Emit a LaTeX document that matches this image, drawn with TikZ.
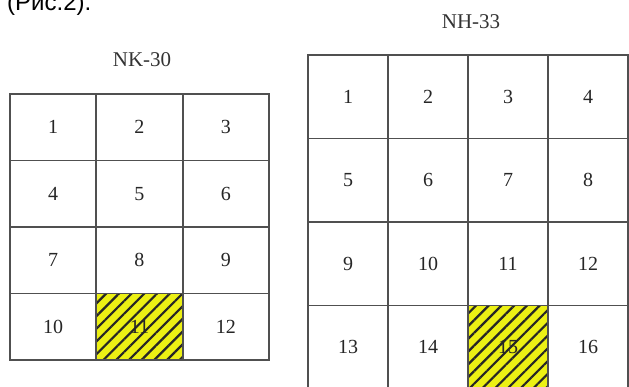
\documentclass[tikz,border=0pt]{standalone}
\usepackage{fontspec}
\setmainfont{Liberation Serif}
\newfontfamily\capfont{Liberation Sans}
\usepackage{tikz}
\usetikzlibrary{patterns.meta}

\definecolor{gridgray}{RGB}{80,80,80}
\definecolor{hatchyellow}{RGB}{236,240,20}

\begin{document}
\begin{tikzpicture}[
        x=1pt, y=-1pt,
        cell/.style={draw=gridgray, line width=1.7pt, inner sep=0pt,
            text=black!85, font=\fontsize{20}{24}\selectfont},
        hatched/.style={preaction={fill=hatchyellow},
            pattern={Lines[angle=45, distance=9pt, line width=2.2pt]},
            pattern color=black!85},
        ttl/.style={text=black!80, font=\fontsize{21}{25}\selectfont},
    ]
    \clip (0,0) rectangle (629,387);

    % Caption fragment, cut off by the top edge
    \node[anchor=base west, inner sep=0pt, font=\capfont\fontsize{24}{28}\selectfont]
        (cap) at (7,11) {(Рис.2).};

    % Left sheet: 3 x 4 cells, 86.33 x 66.5
    \node[ttl] (nk) at (142,60) {NK-30};
    \foreach \n in {1,...,12} {
        \pgfmathtruncatemacro{\c}{mod(\n-1,3)}
        \pgfmathtruncatemacro{\r}{div(\n-1,3)}
        \node[cell, minimum width=86.33pt, minimum height=66.5pt]
            (nk\n) at ({10+86.33*(\c+0.5)},{94+66.5*(\r+0.5)}) {\n};
    }
    \node[cell, hatched, minimum width=86.33pt, minimum height=66.5pt]
        at (nk11) {11};

    % Right sheet: 4 x 4 cells, 80 x 83.5
    \node[ttl] (nh) at (471,22) {NH-33};
    \foreach \n in {1,...,16} {
        \pgfmathtruncatemacro{\c}{mod(\n-1,4)}
        \pgfmathtruncatemacro{\r}{div(\n-1,4)}
        \node[cell, minimum width=80pt, minimum height=83.5pt]
            (nh\n) at ({308+80*(\c+0.5)},{55+83.5*(\r+0.5)}) {\n};
    }
    \node[cell, hatched, minimum width=80pt, minimum height=83.5pt]
        at (nh15) {15};
\end{tikzpicture}
\end{document}
